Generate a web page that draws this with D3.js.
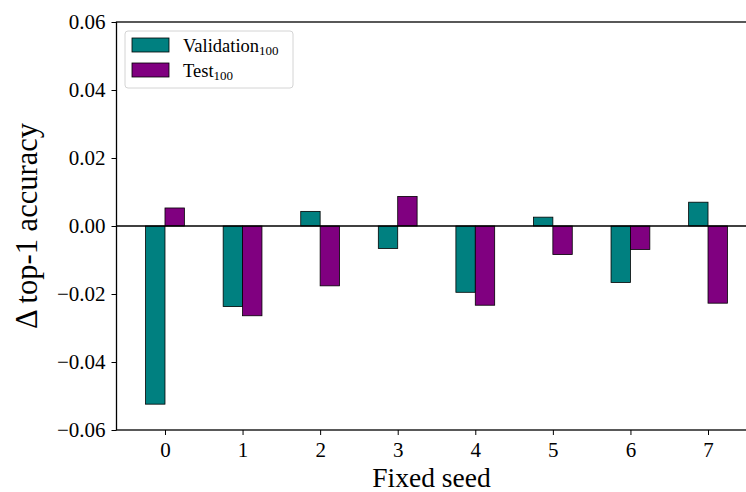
<!DOCTYPE html>
<html>
<head>
<meta charset="utf-8">
<script src="https://cdn.jsdelivr.net/npm/d3@7"></script>
<style>
  html, body { margin: 0; padding: 0; background: #fff; }
  svg { display: block; font-family: "Liberation Serif", "Times New Roman", serif; }
</style>
</head>
<body>
<svg id="chart" width="746" height="492"></svg>
<script>
// Change in top-1 accuracy per fixed seed
const seeds = [0, 1, 2, 3, 4, 5, 6, 7];
const validation100 = [-0.0524, -0.0237, 0.0043, -0.0066, -0.0195, 0.0026, -0.0166, 0.0070];
const test100 = [0.0053, -0.0264, -0.0176, 0.0087, -0.0233, -0.0084, -0.0069, -0.0227];
const yTicks = [-0.06, -0.04, -0.02, 0.00, 0.02, 0.04, 0.06];

const seriesNames = ["Validation", "Test"];
const seriesColors = ["#008080", "#800080"];
const barWidth = 0.25;

const svg = d3.select("#chart");
const plot = { left: 116.5, right: 756.5, top: 22, bottom: 430 };

const x = d3.scaleLinear().domain([-0.625, 7.625]).range([plot.left, plot.right]);
const y = d3.scaleLinear().domain([-0.06, 0.06]).range([plot.bottom, plot.top]);

const series = [validation100, test100];
const offsets = [-barWidth, 0];

// bars
series.forEach((vals, si) => {
  svg.append("g")
    .selectAll("rect")
    .data(seeds)
    .join("rect")
    .attr("x", d => x(d + offsets[si]))
    .attr("width", x(barWidth) - x(0))
    .attr("y", (d, i) => y(Math.max(0, vals[i])))
    .attr("height", (d, i) => Math.abs(y(vals[i]) - y(0)))
    .attr("fill", seriesColors[si])
    .attr("stroke", "#000")
    .attr("stroke-width", 0.8);
});

// zero line
svg.append("line")
  .attr("x1", plot.left).attr("x2", plot.right)
  .attr("y1", y(0)).attr("y2", y(0))
  .attr("stroke", "#000").attr("stroke-width", 1.3);

// axes
const fmt = v => (v < 0 ? "\u2212" : "") + Math.abs(v).toFixed(2);

const yAxis = svg.append("g")
  .attr("transform", `translate(${plot.left},0)`)
  .call(d3.axisLeft(y).tickValues(yTicks).tickFormat(fmt).tickSizeOuter(0).tickSize(5).tickPadding(6));

const xAxis = svg.append("g")
  .attr("transform", `translate(0,${plot.bottom})`)
  .call(d3.axisBottom(x).tickValues(seeds).tickFormat(d3.format("d")).tickSizeOuter(0).tickSize(5).tickPadding(7));

[yAxis, xAxis].forEach(g => {
  g.select(".domain").remove();
  g.selectAll(".tick line").attr("stroke", "#000").attr("stroke-width", 1);
  g.selectAll(".tick text").attr("fill", "#000").style("font-size", "21px")
    .style("font-family", "'Liberation Serif', serif");
});

// spines
svg.append("rect")
  .attr("x", plot.left).attr("y", plot.top)
  .attr("width", plot.right - plot.left).attr("height", plot.bottom - plot.top)
  .attr("fill", "none").attr("stroke", "#000").attr("stroke-width", 1.3);

// axis labels
svg.append("text")
  .attr("x", (x(-0.625) + x(7.625)) / 2 - 5)
  .attr("y", 486.5)
  .attr("text-anchor", "middle")
  .style("font-size", "27.5px")
  .text("Fixed seed");

svg.append("text")
  .attr("transform", `translate(37,${(plot.top + plot.bottom) / 2}) rotate(-90)`)
  .attr("text-anchor", "middle")
  .style("font-size", "30.5px")
  .text("\u0394 top-1 accuracy");

// legend
const legend = svg.append("g");
legend.append("rect")
  .attr("x", 125).attr("y", 31).attr("width", 168).attr("height", 57)
  .attr("rx", 3).attr("fill", "#fff").attr("fill-opacity", 0.8)
  .attr("stroke", "#d4d4d4").attr("stroke-width", 1);

seriesNames.forEach((name, i) => {
  const yy = 38 + i * 25;
  legend.append("rect")
    .attr("x", 132).attr("y", yy).attr("width", 37).attr("height", 14)
    .attr("fill", seriesColors[i]).attr("stroke", "#000").attr("stroke-width", 0.8);
  const t = legend.append("text")
    .attr("x", 183).attr("y", yy + 13.5)
    .style("font-size", "18.5px");
  t.append("tspan").text(name);
  t.append("tspan").attr("dy", 3.5).style("font-size", "13px").text("100");
});
</script>
</body>
</html>
